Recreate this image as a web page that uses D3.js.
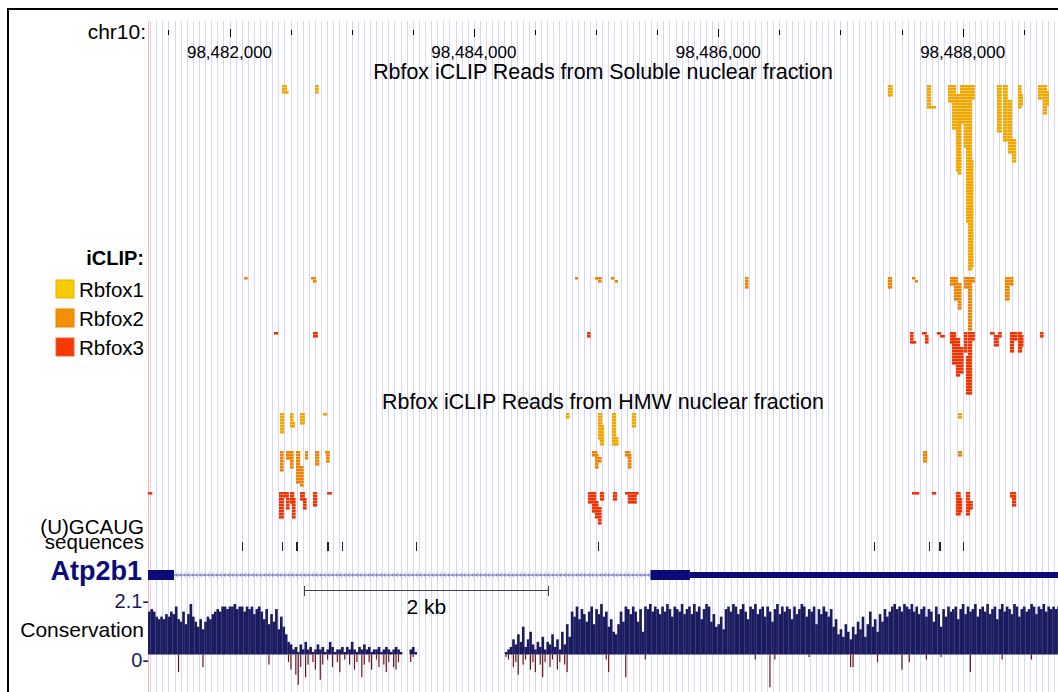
<!DOCTYPE html>
<html>
<head>
<meta charset="utf-8">
<script src="https://cdn.jsdelivr.net/npm/d3@7"></script>
<style>
  body { margin: 0; background: #fff; }
  svg { display: block; font-family: "Liberation Sans", Arial, sans-serif; }
</style>
</head>
<body>
<svg width="1058" height="692"></svg>
<script>
// window on chr10 (bp)
const viewStart = 98481333;
const viewEnd = 98488780;

const rulerTicks = [98481500, 98482000, 98482500, 98483000, 98483500, 98484000, 98484500,
  98485000, 98485500, 98486000, 98486500, 98487000, 98487500, 98488000, 98488500];
const rulerLabels = [98482000, 98484000, 98486000, 98488000];

const trackTitles = ["Rbfox iCLIP Reads from Soluble nuclear fraction",
  "Rbfox iCLIP Reads from HMW nuclear fraction"];
const proteins = ["Rbfox1", "Rbfox2", "Rbfox3"];

// iCLIP read piles: [start, length, firstRow, lastRow]
const solubleRbfox1 = [
  [98482429, 40, 0, 2], [98482454, 30, 2, 2], [98482700, 30, 0, 2],
  [98487388, 40, 0, 3], [98487707, 35, 0, 7], [98487732, 50, 7, 7],
  [98487879, 35, 0, 5], [98487912, 35, 0, 14], [98487944, 35, 3, 28],
  [98487961, 30, 10, 29], [98487977, 35, 0, 12], [98488010, 35, 0, 20],
  [98488026, 30, 20, 45], [98488043, 35, 0, 61], [98488059, 30, 25, 60],
  [98488075, 25, 0, 4], [98488280, 40, 0, 15], [98488329, 40, 0, 18],
  [98488370, 35, 5, 22], [98488403, 35, 18, 25], [98488452, 30, 0, 7],
  [98488468, 25, 3, 6], [98488615, 40, 0, 4], [98488656, 35, 0, 9],
  [98488681, 25, 2, 6]
];
const solubleRbfox2 = [
  [98482119, 30, 0, 0], [98482667, 40, 0, 0], [98482683, 30, 1, 1],
  [98484827, 25, 0, 0], [98484990, 30, 0, 0], [98485015, 30, 0, 1],
  [98485121, 30, 0, 0], [98485154, 25, 1, 1], [98486218, 30, 0, 3],
  [98487388, 35, 0, 3], [98487585, 30, 0, 0], [98487609, 25, 1, 1],
  [98487895, 40, 0, 2], [98487928, 35, 0, 7], [98487961, 30, 2, 10],
  [98488010, 40, 0, 3], [98488043, 35, 0, 17], [98488075, 25, 0, 1],
  [98488345, 40, 0, 7], [98488386, 30, 0, 2]
];
const solubleRbfox3 = [
  [98482364, 35, 0, 0], [98482683, 40, 0, 1], [98484925, 30, 0, 1],
  [98487568, 30, 0, 3], [98487585, 35, 3, 3], [98487666, 40, 0, 0],
  [98487691, 30, 1, 3], [98487789, 35, 0, 0], [98487814, 40, 1, 1],
  [98487895, 40, 0, 3], [98487912, 35, 0, 10], [98487944, 35, 2, 14],
  [98487977, 30, 5, 13], [98488010, 30, 0, 6], [98488026, 30, 8, 20],
  [98488043, 35, 0, 20], [98488075, 25, 0, 2], [98488223, 40, 0, 0],
  [98488256, 40, 1, 4], [98488290, 30, 0, 1], [98488386, 35, 0, 6],
  [98488419, 30, 0, 2], [98488452, 35, 0, 6], [98488468, 30, 1, 4],
  [98488632, 30, 0, 1]
];
const hmwRbfox1 = [
  [98482413, 35, 0, 6], [98482495, 30, 0, 4], [98482511, 25, 3, 4],
  [98482577, 40, 0, 3], [98482765, 35, 0, 0], [98484753, 30, 0, 1],
  [98485015, 35, 0, 8], [98485031, 35, 4, 10], [98485129, 35, 0, 10],
  [98485154, 30, 8, 10], [98485293, 35, 0, 4], [98487961, 35, 0, 1]
];
const hmwRbfox2 = [
  [98482413, 30, 0, 6], [98482462, 40, 0, 2], [98482495, 30, 0, 5],
  [98482544, 35, 0, 10], [98482577, 30, 5, 11], [98482618, 25, 0, 2],
  [98482700, 35, 0, 4], [98482781, 40, 0, 0], [98482790, 30, 1, 3],
  [98484966, 45, 0, 1], [98484990, 30, 1, 5], [98485015, 30, 2, 3],
  [98485236, 45, 0, 1], [98485260, 30, 1, 5], [98487675, 35, 0, 3],
  [98487961, 35, 0, 1]
];
const hmwRbfox3 = [
  [98481333, 35, 0, 0], [98482405, 40, 0, 8], [98482446, 40, 0, 1],
  [98482462, 30, 2, 5], [98482495, 35, 0, 3], [98482511, 30, 2, 8],
  [98482577, 40, 0, 2], [98482601, 30, 2, 5], [98482683, 35, 0, 4],
  [98482798, 40, 0, 0], [98484933, 40, 0, 3], [98484966, 35, 0, 6],
  [98484990, 30, 3, 8], [98485015, 30, 5, 10], [98485031, 35, 0, 2],
  [98485137, 35, 0, 2], [98485236, 40, 0, 0], [98485260, 35, 0, 3],
  [98485293, 40, 0, 3], [98485318, 30, 0, 0], [98487585, 60, 0, 0],
  [98487748, 35, 0, 0], [98487944, 40, 0, 7], [98487961, 35, 2, 6],
  [98488026, 35, 0, 7], [98488043, 40, 3, 5], [98488386, 50, 0, 1],
  [98488403, 35, 1, 4]
];

// (U)GCAUG sites: [position, count]
const motifSites = [[98482100, 1], [98482426, 1], [98482544, 2], [98482795, 2],
  [98482921, 1], [98483525, 1], [98485019, 1], [98487274, 1], [98487726, 1],
  [98487806, 2], [98488005, 1]];

// Atp2b1 model: [start, end, kind]
const geneBlocks = [[98481333, 98481546, "cds"], [98485445, 98485768, "cds"],
  [98485768, 98488780, "utr"]];
const geneIntron = [98481546, 98485445];
const scaleBar = [98482610, 98484610];

// conservation, 20 bp bins from 98481333, values in tenths
const consStart = 98481333;
const consBin = 20;
const consPos = [
  17, 18, 17, 15, 14, 15, 14, 16, 15, 17,
  16, 19, 14, 13, 17, 12, 16, 20, 15, 13,
  11, 14, 10, 13, 15, 14, 16, 17, 18, 17,
  19, 19, 18, 19, 19, 20, 18, 19, 19, 17,
  19, 18, 19, 16, 18, 19, 17, 14, 18, 12,
  16, 13, 18, 10, 15, 11, 8, 5, 4, 2,
  3, 1, 4, 2, 5, 2, 3, 1, 2, 4,
  2, 3, 1, 2, 5, 3, 1, 2, 2, 3,
  1, 3, 2, 5, 2, 1, 3, 2, 4, 2,
  3, 1, 2, 2, 3, 1, 2, 3, 2, 1,
  2, 3, 2, 1, null, null, null, 2, 3, 1,
  null, null, null, null, null, null, null, null, null, null,
  null, null, null, null, null, null, null, null, null, null,
  null, null, null, null, null, null, null, null, null, null,
  null, null, null, null, null, null, 1, 2, 3, 6,
  4, 8, 5, 11, 3, 6, 9, 4, 2, 5,
  3, 7, 2, 5, 4, 8, 3, 6, 2, 9,
  4, 12, 7, 17, 15, 19, 14, 18, 16, 13,
  17, 19, 12, 18, 16, 20, 15, 17, 11, 14,
  9, 8, 12, 17, 13, 19, 18, 16, 19, 17,
  13, 18, 9, 19, 18, 20, 17, 19, 18, 16,
  19, 17, 20, 18, 15, 19, 18, 17, 20, 16,
  18, 19, 16, 20, 17, 19, 14, 18, 20, 19,
  13, 16, 11, 12, 15, 10, 18, 19, 17, 20,
  19, 16, 18, 20, 17, 14, 19, 18, 20, 16,
  18, 19, 15, 19, 17, 13, 18, 20, 16, 19,
  17, 19, 18, 14, 19, 16, 18, 20, 19, 15,
  18, 17, 19, 12, 18, 16, 19, 17, 15, 18,
  11, 14, 8, 10, 7, 12, 9, 6, 11, 8,
  13, 10, 15, 7, 12, 17, 11, 14, 9, 16,
  13, 18, 15, 17, 19, 20, 18, 19, 17, 20,
  19, 18, 20, 17, 19, 16, 18, 19, 15, 18,
  17, 13, 19, 16, 11, 18, 15, 19, 17, 18,
  19, 14, 18, 20, 16, 19, 17, 18, 20, 15,
  18, 19, 17, 20, 16, 18, 19, 14, 18, 20,
  17, 19, 18, 16, 20, 19, 15, 18, 19, 17,
  18, 20, 19, 16, 19, 18, 20, 17, 19, 18,
  19, 18, 19
];
// negative bins: [bin, tenths]
const consNeg = [
  [12, -7], [22, -5], [49, -4], [57, -3], [58, -6], [60, -8], [61, -12], [62, -5],
  [64, -9], [65, -4], [67, -3], [68, -6], [70, -10], [71, -4], [73, -2], [75, -5],
  [77, -3], [78, -7], [80, -2], [82, -4], [84, -6], [85, -3], [87, -9], [88, -4],
  [90, -3], [91, -6], [93, -2], [94, -5], [96, -4], [97, -7], [98, -3], [100, -5],
  [101, -6], [102, -3], [107, -3], [108, -1], [146, -1], [147, -2], [149, -5],
  [150, -3], [151, -8], [153, -4], [154, -2], [156, -6], [157, -3], [158, -7],
  [160, -4], [161, -9], [162, -3], [164, -5], [165, -2], [167, -6], [168, -3],
  [170, -4], [171, -7], [187, -2], [188, -7], [195, -9], [203, -2], [248, -2],
  [254, -13], [256, -2], [270, -1], [287, -5], [288, -5], [298, -3], [308, -6],
  [311, -3], [318, -2], [324, -1], [336, -7], [349, -2], [361, -2]
];

const readColors = ["#f0a800", "#ee8400", "#ee3400"];
const legendFill = ["#f5cc00", "#f39200", "#f53a00"];
const legendStroke = ["#f0b000", "#ee8000", "#f06040"];

function drawBrowser() {
  const svg = d3.select("svg");
  const left = 148, right = 1058;
  const x = d3.scaleLinear().domain([viewStart, viewEnd]).range([left, right]);

  // frame
  svg.append("line").attr("x1", 8).attr("x2", 1058).attr("y1", 9).attr("y2", 9)
    .attr("stroke", "#000").attr("stroke-width", 2);
  svg.append("line").attr("x1", 8).attr("x2", 8).attr("y1", 8).attr("y2", 692)
    .attr("stroke", "#000").attr("stroke-width", 2);

  // base position guide lines
  const guides = d3.range(Math.ceil(viewStart / 50) * 50, viewEnd, 50);
  svg.append("g").selectAll("line")
    .data(guides)
    .join("line")
    .attr("x1", d => Math.round(x(d)) + 0.5)
    .attr("x2", d => Math.round(x(d)) + 0.5)
    .attr("y1", 21).attr("y2", 692)
    .attr("stroke", "#d6d6fb").attr("stroke-width", 1);
  svg.append("line").attr("x1", left + 0.5).attr("x2", left + 0.5).attr("y1", 21).attr("y2", 692)
    .attr("stroke", "#ffb4b4");

  // ruler
  svg.append("text").attr("x", 146).attr("y", 39).attr("text-anchor", "end")
    .attr("font-size", 21).text("chr10:");
  svg.append("g").selectAll("line")
    .data(rulerTicks)
    .join("line")
    .attr("x1", d => Math.round(x(d)) + 0.5)
    .attr("x2", d => Math.round(x(d)) + 0.5)
    .attr("y1", d => rulerLabels.includes(d) ? 29 : 30)
    .attr("y2", d => rulerLabels.includes(d) ? 37 : 35)
    .attr("stroke", "#000");
  svg.append("g").selectAll("text")
    .data(rulerLabels)
    .join("text")
    .attr("x", d => x(d))
    .attr("y", 58)
    .attr("text-anchor", "middle")
    .attr("font-size", 17)
    .text(d => d3.format(",")(d));

  // track titles
  svg.append("g").selectAll("text")
    .data(trackTitles)
    .join("text")
    .attr("x", 603)
    .attr("y", (d, i) => i === 0 ? 79 : 409)
    .attr("text-anchor", "middle")
    .attr("font-size", 21.4)
    .text(d => d);

  // legend
  svg.append("text").attr("x", 144).attr("y", 265).attr("text-anchor", "end")
    .attr("font-size", 20).attr("font-weight", "bold").text("iCLIP:");
  const legend = svg.append("g").selectAll("g")
    .data(proteins)
    .join("g")
    .attr("transform", (d, i) => `translate(0,${280 + i * 29})`);
  legend.append("rect")
    .attr("x", 56).attr("y", 0).attr("width", 18).attr("height", 18)
    .attr("fill", (d, i) => legendFill[i])
    .attr("stroke", (d, i) => legendStroke[i]).attr("stroke-width", 1);
  legend.append("text")
    .attr("x", 79).attr("y", 17)
    .attr("font-size", 20.5)
    .text(d => d);

  // reads
  const readTracks = [
    { piles: solubleRbfox1, top: 85, color: readColors[0] },
    { piles: solubleRbfox2, top: 277, color: readColors[1] },
    { piles: solubleRbfox3, top: 332, color: readColors[2] },
    { piles: hmwRbfox1, top: 413, color: readColors[0] },
    { piles: hmwRbfox2, top: 451, color: readColors[1] },
    { piles: hmwRbfox3, top: 492, color: readColors[2] }
  ];
  const rowH = 3, readH = 2.6;
  readTracks.forEach(function (track) {
    const reads = [];
    track.piles.forEach(function (p) {
      for (let r = p[2]; r <= p[3]; r++) reads.push({ start: p[0], len: p[1], row: r });
    });
    svg.append("g").selectAll("rect")
      .data(reads)
      .join("rect")
      .attr("x", d => x(d.start))
      .attr("width", d => x(d.start + d.len) - x(d.start))
      .attr("y", d => track.top + d.row * rowH)
      .attr("height", readH)
      .attr("fill", track.color);
  });

  // (U)GCAUG sequences
  svg.append("text").attr("x", 144).attr("y", 534).attr("text-anchor", "end")
    .attr("font-size", 20.5).text("(U)GCAUG");
  svg.append("text").attr("x", 144).attr("y", 549).attr("text-anchor", "end")
    .attr("font-size", 20.5).text("sequences");
  svg.append("g").selectAll("rect")
    .data(motifSites)
    .join("rect")
    .attr("x", d => Math.round(x(d[0])))
    .attr("width", d => d[1])
    .attr("y", 542).attr("height", 9)
    .attr("fill", "#222");

  // gene
  const geneColor = "#0c0c78";
  svg.append("text").attr("x", 142).attr("y", 580).attr("text-anchor", "end")
    .attr("font-size", 27).attr("font-weight", "bold").attr("fill", geneColor)
    .text("Atp2b1");
  const chevrons = d3.range(x(geneIntron[0]) + 2, x(geneIntron[1]) - 2, 4);
  svg.append("g").selectAll("path")
    .data(chevrons)
    .join("path")
    .attr("d", d => `M${d + 2},${572.5}L${d},${575}L${d + 2},${577.5}`)
    .attr("fill", "none").attr("stroke", "#9c9cd6").attr("stroke-width", 1);
  svg.append("line")
    .attr("x1", x(geneIntron[0])).attr("x2", x(geneIntron[1]))
    .attr("y1", 575).attr("y2", 575)
    .attr("stroke", "#5a5aa8").attr("stroke-width", 1);
  svg.append("g").selectAll("rect")
    .data(geneBlocks)
    .join("rect")
    .attr("x", d => x(d[0]))
    .attr("width", d => x(d[1]) - x(d[0]))
    .attr("y", d => d[2] === "cds" ? 570 : 572)
    .attr("height", d => d[2] === "cds" ? 10 : 6)
    .attr("fill", geneColor);

  // scale bar
  const sb = svg.append("g").attr("stroke", "#444").attr("stroke-width", 1);
  sb.append("line").attr("x1", x(scaleBar[0])).attr("x2", x(scaleBar[1]))
    .attr("y1", 590.5).attr("y2", 590.5);
  sb.selectAll("line.cap")
    .data(scaleBar)
    .join("line")
    .classed("cap", true)
    .attr("x1", d => Math.round(x(d)) + 0.5).attr("x2", d => Math.round(x(d)) + 0.5)
    .attr("y1", 586).attr("y2", 596);
  svg.append("text").attr("x", (x(scaleBar[0]) + x(scaleBar[1])) / 2).attr("y", 614)
    .attr("text-anchor", "middle").attr("font-size", 21).text("2 kb");

  // conservation
  const y = d3.scaleLinear().domain([0, 2.1]).range([654.5, 601.5]);
  const binX = i => x(consStart + i * consBin);
  const pos = consPos.map((v, i) => ({ i: i, v: v })).filter(d => d.v !== null);
  svg.append("g").selectAll("rect")
    .data(pos)
    .join("rect")
    .attr("x", d => binX(d.i))
    .attr("width", d => binX(d.i + 1) - binX(d.i) + 0.2)
    .attr("y", d => y(d.v / 10))
    .attr("height", d => y(0) - y(d.v / 10))
    .attr("fill", "#1b1b60");
  svg.append("g").selectAll("rect")
    .data(consNeg)
    .join("rect")
    .attr("x", d => binX(d[0]) + 0.6)
    .attr("width", 1.2)
    .attr("y", y(0))
    .attr("height", d => y(d[1] / 10) - y(0))
    .attr("fill", "#6e1414");

  svg.append("g").selectAll("text")
    .data([2.1, 0])
    .join("text")
    .attr("x", 149)
    .attr("y", d => d === 0 ? y(d) + 12 : y(d) + 6)
    .attr("text-anchor", "end")
    .attr("font-size", 20)
    .attr("fill", "#1b1b60")
    .text(d => d + "-");
  svg.append("text").attr("x", 144).attr("y", 637).attr("text-anchor", "end")
    .attr("font-size", 21).text("Conservation");
}

drawBrowser();
</script>
</body>
</html>
